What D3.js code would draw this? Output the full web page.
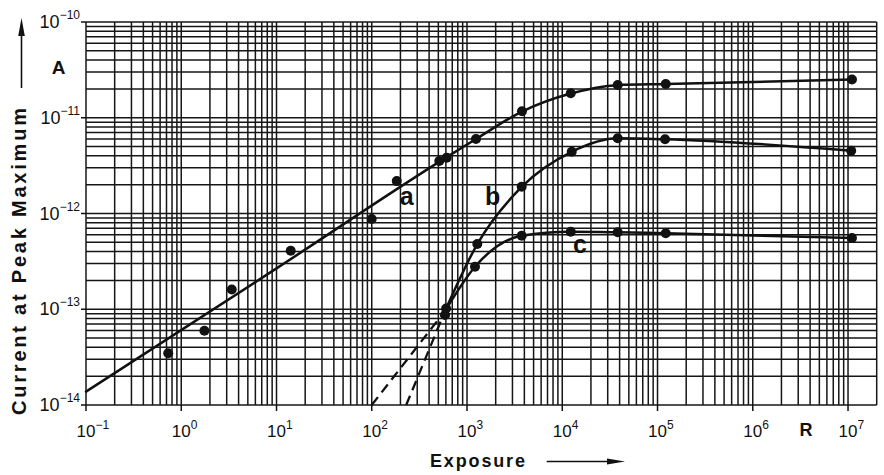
<!DOCTYPE html>
<html lang="en">
<head>
<meta charset="UTF-8" />
<title>Current at Peak Maximum vs Exposure</title>
<style>
  body { margin: 0; background: #fff; }
  svg { display: block; font-family: "Liberation Sans", Arial, sans-serif; }
</style>
</head>
<body>
<div id="chart"></div>
<script src="https://d3js.org/d3.v7.min.js"></script>
<script>
// measured points: [exposure (R), current (A)]
const pointsA = [[0.73,3.47e-14],[1.75,5.97e-14],[3.39,1.61e-13],[14.1,4.08e-13],[99.8,8.77e-13],
  [183,2.18e-12],[512,3.53e-12],[612,3.83e-12],[1242,6.0e-12],[3776,1.17e-11],[12280,1.80e-11],
  [38200,2.20e-11],[1.22e5,2.25e-11],[1.10e7,2.51e-11]];
const pointsB = [[603,1.02e-13],[1283,4.8e-13],[3750,1.90e-12],[12570,4.41e-12],[38200,6.10e-12],
  [1.2e5,5.96e-12],[1.08e7,4.53e-12]];
const pointsC = [[588,8.7e-14],[1213,2.78e-13],[3750,5.86e-13],[12280,6.46e-13],[38200,6.37e-13],
  [1.22e5,6.21e-13],[1.10e7,5.55e-13]];

// drawn curves
const curveA = [[0.1,1.38e-14],[10,2.67e-13],[612,3.88e-12],[1242,6.0e-12],[3776,1.16e-11],[12280,1.79e-11],
  [38200,2.19e-11],[1.22e5,2.25e-11],[1.10e7,2.51e-11]];
const curveB = [[588,9.6e-14],[1283,4.8e-13],[3750,1.90e-12],[12570,4.41e-12],[38200,6.10e-12],
  [1.2e5,5.96e-12],[1.08e7,4.53e-12]];
const curveC = [[588,9.6e-14],[1213,2.78e-13],[3750,5.86e-13],[12280,6.46e-13],[38200,6.37e-13],
  [1.22e5,6.21e-13],[1.10e7,5.55e-13]];
// extrapolated (dashed) parts
const dashB = [[230,1e-14],[588,9.6e-14]];
const dashC = [[100,1e-14],[588,9.6e-14]];

const curveLabels = ["a", "b", "c"];
const labelAt = [[233,1.23e-12],[1862,1.23e-12],[15350,3.87e-13]];

const xExponents = [-1, 0, 1, 2, 3, 4, 5, 6, 7];
const yExponents = [-14, -13, -12, -11, -10];

const width = 884, height = 475;

const svg = d3.select("#chart").append("svg")
  .attr("width", width)
  .attr("height", height);

const x = d3.scaleLog().domain([0.1, 2e7]).range([86, 876.7]);
const y = d3.scaleLog().domain([1e-14, 1e-10]).range([405, 22]);

// log grid values
function gridValues(scale) {
  const [lo, hi] = scale.domain();
  const out = [];
  for (let d = Math.floor(Math.log10(lo)); d <= Math.ceil(Math.log10(hi)); d++) {
    for (let m = 1; m <= 9; m++) {
      const v = m * Math.pow(10, d);
      if (v >= lo * 0.9999 && v <= hi * 1.0001) out.push(v);
    }
  }
  return out;
}

const grid = svg.append("g")
  .attr("stroke", "#161616")
  .attr("stroke-width", 1.5);

grid.selectAll("line.v")
  .data(gridValues(x))
  .enter().append("line")
    .attr("class", "v")
    .attr("x1", d => x(d)).attr("x2", d => x(d))
    .attr("y1", y(1e-14)).attr("y2", y(1e-10));

grid.selectAll("line.h")
  .data(gridValues(y))
  .enter().append("line")
    .attr("class", "h")
    .attr("x1", x(0.1)).attr("x2", x(2e7))
    .attr("y1", d => y(d)).attr("y2", d => y(d));

// tick marks
svg.append("g").attr("stroke", "#111").attr("stroke-width", 1.5)
  .selectAll("line")
  .data(xExponents)
  .enter().append("line")
    .attr("x1", d => x(Math.pow(10, d))).attr("x2", d => x(Math.pow(10, d)))
    .attr("y1", y(1e-14)).attr("y2", y(1e-14) + 6);

svg.append("g").attr("stroke", "#111").attr("stroke-width", 1.5)
  .selectAll("line")
  .data(yExponents)
  .enter().append("line")
    .attr("x1", x(0.1) - 5).attr("x2", x(0.1))
    .attr("y1", d => y(Math.pow(10, d))).attr("y2", d => y(Math.pow(10, d)));

// tick labels
const xLab = svg.append("g").attr("fill", "#111").attr("font-size", 17)
  .selectAll("text")
  .data(xExponents)
  .enter().append("text")
    .attr("x", d => x(Math.pow(10, d)) - 9.5)
    .attr("y", 437);
xLab.append("tspan").text("10");
xLab.append("tspan").attr("font-size", 12).attr("dy", -8)
  .text(d => String(d).replace("-", "\u2212"));

const yLab = svg.append("g").attr("fill", "#111").attr("font-size", 18)
  .attr("text-anchor", "end")
  .selectAll("text")
  .data(yExponents)
  .enter().append("text")
    .attr("x", 80)
    .attr("y", d => y(Math.pow(10, d)) + 6);
yLab.append("tspan").text("10");
yLab.append("tspan").attr("font-size", 12).attr("dy", -9)
  .text(d => String(d).replace("-", "\u2212"));

// curves
const line = d3.line()
  .x(d => x(d[0]))
  .y(d => y(d[1]))
  .curve(d3.curveMonotoneX);

const lines = svg.append("g").attr("fill", "none").attr("stroke", "#111")
  .attr("stroke-width", 2.5).attr("stroke-linecap", "round");

[curveA, curveB, curveC].forEach(c => lines.append("path").attr("d", line(c)));
[dashB, dashC].forEach(c => lines.append("path")
  .attr("d", d3.line().x(d => x(d[0])).y(d => y(d[1]))(c))
  .attr("stroke-width", 2.3)
  .attr("stroke-linecap", "butt")
  .attr("stroke-dasharray", "10,6"));

// data points
svg.append("g").attr("fill", "#111")
  .selectAll("circle")
  .data(pointsA.concat(pointsB, pointsC))
  .enter().append("circle")
    .attr("cx", d => x(d[0]))
    .attr("cy", d => y(d[1]))
    .attr("r", 5);

// curve letters
svg.append("g").attr("fill", "#111").attr("font-size", 25).attr("font-weight", "bold")
  .attr("text-anchor", "middle")
  .selectAll("text")
  .data(curveLabels)
  .enter().append("text")
    .attr("x", (d, i) => x(labelAt[i][0]))
    .attr("y", (d, i) => y(labelAt[i][1]))
    .text(d => d);

// units
svg.append("text").attr("x", 58.5).attr("y", 74).attr("text-anchor", "middle")
  .attr("font-size", 19).attr("font-weight", "bold").attr("fill", "#111").text("A");
svg.append("text").attr("x", 806).attr("y", 436).attr("text-anchor", "middle")
  .attr("font-size", 18).attr("font-weight", "bold").attr("fill", "#111").text("R");

// axis titles with arrows
svg.append("text")
  .attr("transform", "translate(26,261.5) rotate(-90)")
  .attr("text-anchor", "middle")
  .attr("font-size", 20).attr("font-weight", "bold").attr("fill", "#111")
  .attr("textLength", 307).attr("lengthAdjust", "spacing")
  .text("Current at Peak Maximum");

svg.append("line").attr("x1", 21.5).attr("x2", 21.5).attr("y1", 88).attr("y2", 33)
  .attr("stroke", "#111").attr("stroke-width", 1.6);
svg.append("path").attr("d", "M21.5,18L18.2,36L24.8,36Z").attr("fill", "#111");

svg.append("text")
  .attr("x", 430).attr("y", 467)
  .attr("font-size", 18).attr("font-weight", "bold").attr("fill", "#111")
  .attr("textLength", 95).attr("lengthAdjust", "spacing")
  .text("Exposure");

svg.append("line").attr("x1", 546.7).attr("x2", 610).attr("y1", 461.5).attr("y2", 461.5)
  .attr("stroke", "#111").attr("stroke-width", 1.6);
svg.append("path").attr("d", "M625,461.5L607,458.5L607,464.5Z").attr("fill", "#111");
</script>
</body>
</html>
